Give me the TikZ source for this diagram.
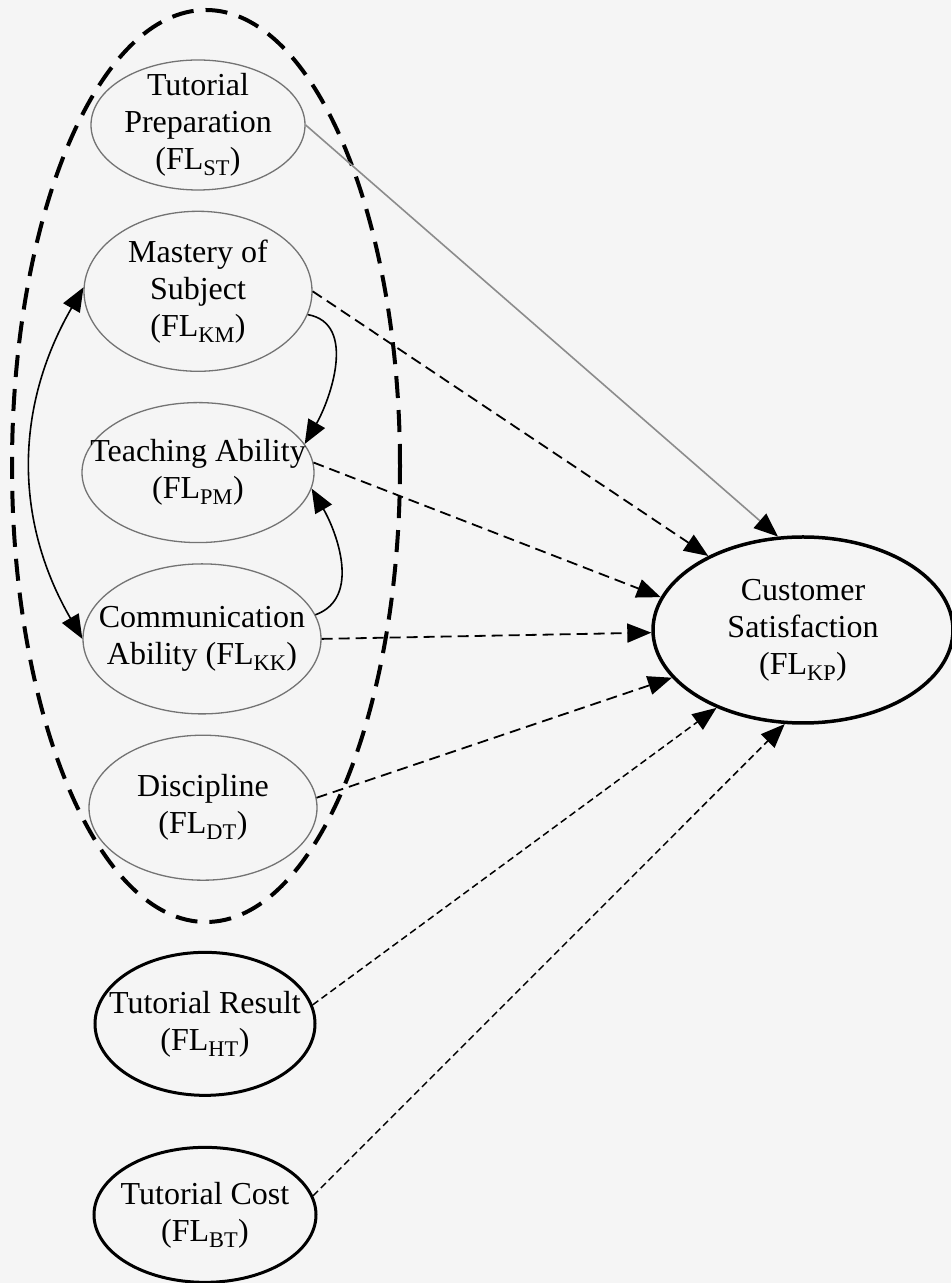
\documentclass[tikz,border=0pt]{standalone}
\usepackage{fontspec}
\setmainfont{Liberation Serif}
\usepackage{tikz}
\usetikzlibrary{arrows.meta}
\usetikzlibrary{positioning}
\usetikzlibrary{shapes.geometric}

\newcommand{\labfont}{\fontsize{32}{37}\selectfont}

\begin{document}
\begin{tikzpicture}[x=1pt,y=1pt,>={Triangle[length=24pt,width=19pt]},
  factor/.style={ellipse,draw=black!55,line width=1.3pt,inner xsep=-40pt,inner ysep=-25pt,align=center,font=\labfont},
  outcome/.style={ellipse,draw,line width=3pt,inner xsep=-40pt,inner ysep=-25pt,align=center,font=\labfont},
  group/.style={ellipse,draw,line width=4pt,dash pattern=on 22pt off 12pt,inner sep=0pt},
  link/.style={->,line width=1.8pt,dash pattern=on 11pt off 6pt},
  finelink/.style={->,line width=1.5pt,dash pattern=on 7pt off 4pt},
  cov/.style={line width=1.6pt}]

  \fill[black!4] (0,0) rectangle (951,1283);
  \useasboundingbox (0,0) rectangle (951,1283);

  % teacher factors
  \node[factor,minimum width=214pt,minimum height=130pt] (prep) at (198,1158) {Tutorial\\Preparation\\(FL\textsubscript{ST})};
  \node[factor,minimum width=228pt,minimum height=160pt] (mast) [below=20pt of prep] {Mastery of\\Subject\\(FL\textsubscript{KM})};
  \node[factor,minimum width=232pt,minimum height=140pt] (teach) [below=30pt of mast] {Teaching Ability\\(FL\textsubscript{PM})};
  \node[factor,minimum width=238pt,minimum height=150pt] (comm) [below=20pt of teach,xshift=4pt] {Communication\\Ability (FL\textsubscript{KK})};
  \node[factor,minimum width=228pt,minimum height=145pt] (disc) [below=20pt of comm,xshift=1pt] {Discipline\\(FL\textsubscript{DT})};

  \node[group,minimum width=388pt,minimum height=912pt] (grp) at (206,817) {};

  % other factors
  \node[outcome,minimum width=220pt,minimum height=143pt] (res) [below=70pt of disc,xshift=2pt] {Tutorial Result\\(FL\textsubscript{HT})};
  \node[outcome,minimum width=222pt,minimum height=135pt] (cost) [below=49pt of res] {Tutorial Cost\\(FL\textsubscript{BT})};

  \node[outcome,line width=3.5pt,minimum width=300pt,minimum height=186pt] (cs) at (803,653) {Customer\\Satisfaction\\(FL\textsubscript{KP})};

  \draw[cov,draw=black!45,-{Triangle[length=24pt,width=19pt,black]}] (prep.east) -- (cs.105);
  \draw[link] (mast.east) -- (cs.142);
  \draw[link] (teach.5) -- (cs.167);
  \draw[link] (comm.east) -- (cs.181);
  \draw[link] (disc.5) -- (cs.200);
  \draw[finelink] (res.10) -- (cs.222);
  \draw[finelink] (cost.10) -- (cs.259);

  \draw[cov,->] (mast.-12) to[out=-10,in=60] (teach.15);
  \draw[cov,->] (comm.12) to[out=20,in=-60] (teach.-8);
  \draw[cov,<->] (mast.178) to[out=240,in=120] (comm.180);

\end{tikzpicture}
\end{document}
